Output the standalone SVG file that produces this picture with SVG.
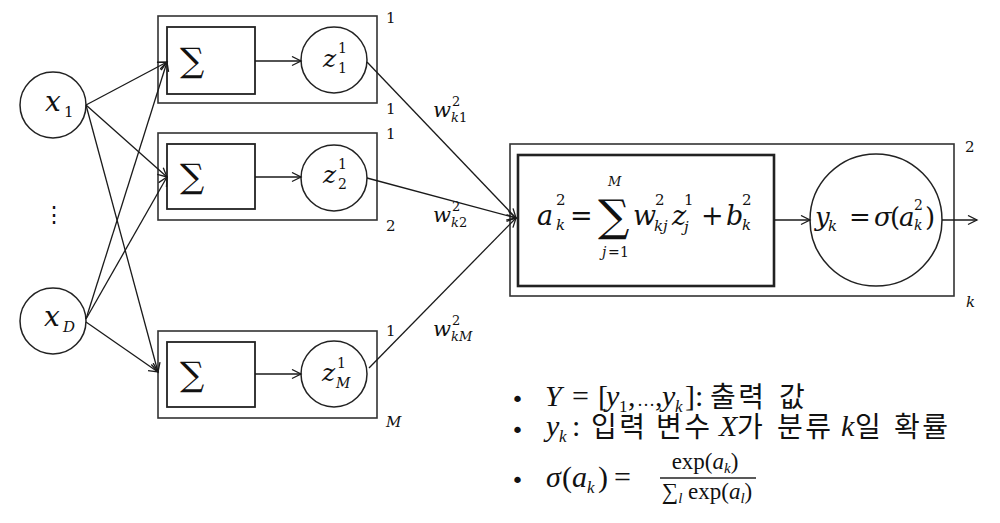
<svg xmlns="http://www.w3.org/2000/svg" width="1000" height="523" viewBox="0 0 1000 523">
<defs>
<marker id="arr" markerWidth="12" markerHeight="12" refX="10" refY="5" orient="auto" markerUnits="userSpaceOnUse"><path d="M1,0.5 L10,5 L1,9.5" fill="none" stroke="#1a1a1a" stroke-width="1.3"/></marker>
</defs>
<style>
.box{fill:none;stroke:#333;stroke-width:1.6}
.ibox{fill:none;stroke:#222;stroke-width:1.8}
.tbox{fill:none;stroke:#222;stroke-width:2.6}
.nd{fill:#fff;stroke:#222;stroke-width:1.5}
.ln{stroke:#1a1a1a;stroke-width:1.3;fill:none;marker-end:url(#arr)}
.m{font-family:"DejaVu Serif","Liberation Serif",serif;font-style:italic;fill:#111}
.r{font-family:"DejaVu Serif","Liberation Serif",serif;font-style:normal;fill:#111}
.nm{font-family:"Liberation Serif",serif;font-style:italic;fill:#111}
.nr{font-family:"Liberation Serif",serif;font-style:normal;fill:#111}
.k{font-family:"Noto Sans CJK KR","Noto Sans",sans-serif;font-style:normal;font-size:28px;letter-spacing:2.5px;fill:#111}
.lab{font-family:"DejaVu Serif","Liberation Serif",serif;font-size:15px;fill:#111}
.bul{font-family:"DejaVu Sans",sans-serif;font-size:22px;fill:#111}
</style>
<rect width="1000" height="523" fill="#fff"/>

<g id="input-x1">
<circle class="nd" cx="53" cy="105" r="33"/>
<text class="m" font-size="28" x="45" y="111">x<tspan class="r" font-size="15" x="64" y="117">1</tspan></text>
</g>
<g id="input-dots">
<text class="r" font-size="22" x="43" y="222">⋮</text>
</g>
<g id="input-xD">
<circle class="nd" cx="53" cy="321" r="33"/>
<text class="m" font-size="28" x="44" y="326">x<tspan font-size="15" x="63" y="332">D</tspan></text>
</g>

<g id="hidden-1">
<rect class="box" x="158" y="16" width="219" height="87"/>
<rect class="ibox" x="167" y="27" width="88" height="67"/>
<text class="r" font-size="34" x="180" y="72">∑</text>
<circle class="nd" cx="334" cy="60" r="33"/>
<text class="m" font-size="25" x="323" y="67">z<tspan class="r" font-size="14" x="338" y="53">1</tspan><tspan class="r" font-size="14" x="338" y="73">1</tspan></text>
<text class="lab" x="386" y="23">1</text>
<text class="lab" x="386" y="114">1</text>
</g>

<g id="hidden-2">
<rect class="box" x="158" y="133" width="219" height="87"/>
<rect class="ibox" x="167" y="144" width="88" height="65"/>
<text class="r" font-size="34" x="180" y="188">∑</text>
<circle class="nd" cx="334" cy="178" r="33"/>
<text class="m" font-size="25" x="323" y="183">z<tspan class="r" font-size="14" x="338" y="169">1</tspan><tspan class="r" font-size="14" x="338" y="189">2</tspan></text>
<text class="lab" x="386" y="139">1</text>
<text class="lab" x="386" y="231">2</text>
</g>

<g id="hidden-M">
<rect class="box" x="158" y="331" width="219" height="87"/>
<rect class="ibox" x="167" y="342" width="88" height="65"/>
<text class="r" font-size="34" x="180" y="386">∑</text>
<circle class="nd" cx="334" cy="374" r="33"/>
<text class="m" font-size="25" x="322" y="381">z<tspan class="r" font-size="14" x="337" y="368">1</tspan><tspan font-size="14" x="336" y="388">M</tspan></text>
<text class="lab" x="386" y="336">1</text>
<text class="lab" x="386" y="427" font-style="italic">M</text>
</g>

<g id="output-k">
<rect class="box" x="510" y="144" width="444" height="152"/>
<rect class="tbox" x="518" y="155" width="256" height="131"/>
<text class="m" font-size="27" x="537" y="225">a<tspan class="r" font-size="15" x="556" y="205">2</tspan><tspan font-size="15" x="556" y="230">k</tspan><tspan class="r" x="570" y="225">=</tspan><tspan class="r" font-size="44" x="598" y="231">∑</tspan><tspan font-size="13" x="608" y="186">M</tspan><tspan font-size="14" x="602" y="257">j</tspan><tspan class="r" font-size="14" x="608" y="257">=</tspan><tspan class="r" font-size="14" x="620" y="257">1</tspan><tspan x="633" y="225">w</tspan><tspan class="r" font-size="15" x="655" y="205">2</tspan><tspan font-size="15" x="654" y="231">k</tspan><tspan font-size="15" x="663" y="231">j</tspan><tspan x="672" y="225">z</tspan><tspan class="r" font-size="15" x="684" y="205">1</tspan><tspan font-size="15" x="684" y="232">j</tspan><tspan class="r" x="701" y="225">+</tspan><tspan x="726" y="225">b</tspan><tspan class="r" font-size="15" x="742" y="205">2</tspan><tspan font-size="15" x="742" y="230">k</tspan></text>
<circle class="nd" cx="876" cy="220" r="66"/>
<text class="m" font-size="26" x="815" y="226">y<tspan font-size="15" x="828" y="231">k</tspan><tspan class="r" x="849" y="226">=</tspan><tspan x="874" y="226">σ</tspan><tspan class="r" x="890" y="226">(</tspan><tspan x="899" y="226">a</tspan><tspan class="r" font-size="14" x="914" y="210">2</tspan><tspan font-size="14" x="914" y="230">k</tspan><tspan class="r" x="925" y="226">)</tspan></text>
<text class="lab" x="965" y="152">2</text>
<text class="lab" x="966" y="307" font-style="italic">k</text>
</g>

<g id="weights">
<text class="m" font-size="21" x="433" y="117">w<tspan class="r" font-size="13" x="452" y="106">2</tspan><tspan font-size="13" x="451" y="122">k</tspan><tspan class="r" font-size="13" x="459" y="122">1</tspan></text>
<text class="m" font-size="21" x="433" y="222">w<tspan class="r" font-size="13" x="452" y="211">2</tspan><tspan font-size="13" x="451" y="227">k</tspan><tspan class="r" font-size="13" x="459" y="227">2</tspan></text>
<text class="m" font-size="21" x="433" y="336">w<tspan class="r" font-size="13" x="452" y="325">2</tspan><tspan font-size="13" x="451" y="341">kM</tspan></text>
</g>

<g id="connectors">
<path class="ln" d="M86,105 L167,62"/>
<path class="ln" d="M86,105 L167,177"/>
<path class="ln" d="M86,105 L158,372"/>
<path class="ln" d="M86,319 L167,62"/>
<path class="ln" d="M86,319 L167,177"/>
<path class="ln" d="M86,322 L158,372"/>
<path class="ln" d="M255,61 L301,61"/>
<path class="ln" d="M255,177 L301,177"/>
<path class="ln" d="M255,374 L301,374"/>
<path class="ln" d="M367,62 L516,218"/>
<path class="ln" d="M367,178 L516,218"/>
<path class="ln" d="M369,368 L516,218"/>
<path class="ln" d="M774,220 L810,220"/>
<path class="ln" d="M942,220 L977,220"/>
</g>

<g id="notes">
<text class="bul" x="511" y="407">•</text>
<text class="nm" font-size="30" x="545" y="406">Y<tspan class="nr" x="572">=</tspan><tspan class="nr" x="598">[</tspan><tspan x="606">y</tspan><tspan class="nr" font-size="17" x="619" y="412">1</tspan><tspan class="nr" x="628" y="406">,</tspan><tspan class="nr" font-size="18" x="637" y="406">…</tspan><tspan class="nr" x="655" y="406">,</tspan><tspan x="662" y="406">y</tspan><tspan font-size="17" x="675" y="412">k</tspan><tspan class="nr" x="685" y="406">]</tspan><tspan class="nr" x="695" y="406">:</tspan><tspan class="k" x="710" y="407">출력</tspan><tspan class="k" x="779" y="407">값</tspan></text>
<text class="bul" x="511" y="438">•</text>
<text class="nm" font-size="30" x="546" y="436">y<tspan font-size="17" x="559" y="442">k</tspan><tspan class="nr" x="572" y="436">:</tspan><tspan class="k" x="591" y="437">입력</tspan><tspan class="k" x="656" y="437">변수</tspan><tspan x="719" y="436">X</tspan><tspan class="k" x="737" y="437">가</tspan><tspan class="k" x="777" y="437">분류</tspan><tspan x="841" y="436">k</tspan><tspan class="k" x="855" y="437">일</tspan><tspan class="k" x="894" y="437">확률</tspan></text>
<text class="bul" x="511" y="488">•</text>
<text class="nm" font-size="30" x="546" y="487">σ<tspan class="nr" x="562">(</tspan><tspan x="572">a</tspan><tspan font-size="17" x="587" y="493">k</tspan><tspan class="nr" x="598" y="487">)</tspan><tspan class="nr" x="614" y="487">=</tspan></text>
<text class="nr" font-size="23" x="705" y="469" text-anchor="middle">exp(<tspan class="nm">a</tspan><tspan class="nm" font-size="15" dy="4">k</tspan><tspan dy="-4">)</tspan></text>
<line x1="660" y1="478" x2="756" y2="478" stroke="#222" stroke-width="1.3"/>
<text class="nr" font-size="23" x="707" y="499" text-anchor="middle">∑<tspan class="nm" font-size="15" dy="4">l</tspan><tspan dy="-4"> exp(</tspan><tspan class="nm">a</tspan><tspan class="nm" font-size="15" dy="4">l</tspan><tspan dy="-4">)</tspan></text>
</g>
</svg>
